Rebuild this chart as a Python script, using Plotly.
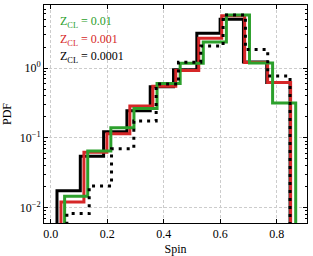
import numpy as np
import plotly.graph_objects as go

# Bin ranges (spin) for each histogram (10 bins each)
black_range = (0.022, 0.847)
red_range = (0.036, 0.849)
green_range = (0.049, 0.867)
dotted_range = (0.057, 0.847)

# PDF values per bin
black_pdf = [0.0175, 0.0545, 0.122, 0.245, 0.54, 0.95, 3.15, 5.0, 1.22, 0.62]
red_pdf = [0.012, 0.062, 0.114, 0.285, 0.55, 0.92, 2.67, 5.63, 1.2, 0.62]
green_pdf = [0.0145, 0.065, 0.14, 0.264, 0.603, 1.17, 2.36, 5.77, 1.18, 0.315]
dotted_pdf = [0.0082, 0.0204, 0.07, 0.174, 0.59, 1.21, 2.07, 5.77, 1.85, 0.773]

legend_labels = ["Z<sub>CL</sub> = 0.01", "Z<sub>CL</sub> = 0.001", "Z<sub>CL</sub> = 0.0001"]
legend_colors = ["#2ca02c", "#d62728", "#000000"]

x_ticks = [0.0, 0.2, 0.4, 0.6, 0.8]
x_ticktext = ["0.0", "0.2", "0.4", "0.6", "0.8"]
y_tickvals = [0.01, 0.1, 1.0]
y_ticktext = ["10<sup>−2</sup>", "10<sup>−1</sup>", "10<sup>0</sup>"]

BASELINE = 1e-5
FONT = "Liberation Serif"


def step_xy(rng, vals):
    edges = np.linspace(rng[0], rng[1], len(vals) + 1)
    xs = [edges[0]] + list(edges[:-1]) + [edges[-1]]
    ys = [BASELINE] + list(vals) + [BASELINE]
    return xs, ys


fig = go.Figure()
series = [
    (black_range, black_pdf, "#000000", "solid"),
    (red_range, red_pdf, "#d62728", "solid"),
    (green_range, green_pdf, "#2ca02c", "solid"),
    (dotted_range, dotted_pdf, "#000000", "3px,5px"),
]
for rng, vals, col, dash in series:
    xs, ys = step_xy(rng, vals)
    fig.add_trace(go.Scatter(x=xs, y=ys, mode="lines", line_shape="hv",
                             line=dict(color=col, width=3, dash=dash),
                             showlegend=False, hoverinfo="skip"))

ann_y = [22, 39.5, 57]
for lab, col, yp in zip(legend_labels, legend_colors, ann_y):
    fig.add_annotation(x=(58 - 44) / 262.7, y=(222.7 - yp) / 217.7, xref="paper", yref="paper",
                       text=lab, showarrow=False, xanchor="left", yanchor="middle",
                       font=dict(family=FONT, size=12, color=col))

fig.update_layout(
    width=313, height=256,
    margin=dict(l=44, r=6, t=5, b=33, autoexpand=False),
    paper_bgcolor="white", plot_bgcolor="white",
    font=dict(family=FONT, size=12, color="black"),
)
fig.update_xaxes(
    automargin=False,
    range=[-0.024, 0.907], tickvals=x_ticks, ticktext=x_ticktext,
    ticks="inside", ticklen=4, tickcolor="black", mirror="allticks",
    showline=True, linecolor="black", linewidth=1,
    showgrid=True, gridcolor="#cccccc", gridwidth=0.8, griddash="3px,2px",
    zeroline=False,
    title=dict(text="Spin", font=dict(family=FONT, size=12)),
)
fig.update_yaxes(
    automargin=False,
    type="log", range=[-2.221, 0.9045],
    tickvals=y_tickvals, ticktext=y_ticktext,
    ticks="inside", ticklen=4, tickcolor="black", mirror="allticks",
    showline=True, linecolor="black", linewidth=1,
    showgrid=True, gridcolor="#cccccc", gridwidth=0.8, griddash="3px,2px",
    zeroline=False,
    minor=dict(ticks="inside", ticklen=2, tickcolor="black",
               tickvals=[m * 10.0 ** e for e in (-3, -2, -1, 0) for m in range(2, 10)],
               showgrid=False),
    title=dict(text="PDF", font=dict(family=FONT, size=12)),
)

fig.write_html("out.html", config={"displayModeBar": False},
               post_script="document.body.style.margin='0px';document.body.style.overflow='hidden';")
